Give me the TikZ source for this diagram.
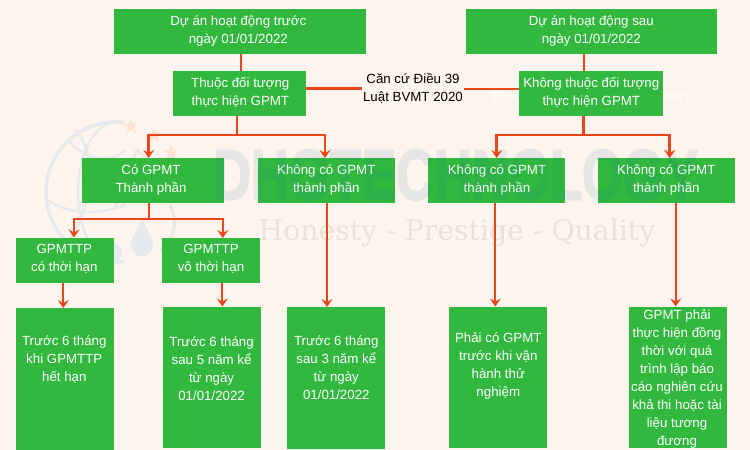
\documentclass[tikz,border=0pt]{standalone}
\usepackage{fontspec}
\usepackage{graphicx}
\setmainfont{Liberation Sans}
\newfontfamily\wmserif{DejaVu Serif}
\newfontfamily\wmb[BoldFeatures={FakeBold=3}]{Liberation Sans}
\definecolor{bgc}{HTML}{FFF5EE}
\definecolor{gbox}{HTML}{32B83F}
\definecolor{redl}{HTML}{E8471C}
\definecolor{wmblue}{HTML}{0F6E9E}
\definecolor{wmtan}{HTML}{E9E2DC}
\definecolor{wmglobe}{HTML}{E6EAEC}
\definecolor{wmstar}{HTML}{FBE3D6}
\definecolor{wmhouse}{HTML}{E7EBDD}
\usetikzlibrary{arrows.meta,calc}
\tikzset{
 gb/.style={fill=gbox,draw=none,inner sep=0pt,outer sep=0pt},
 gt/.style={text=white,align=center,font=\fontsize{13.3}{18}\selectfont,inner sep=0pt,yshift=-1.3pt},
 line/.style={draw=redl,line width=2.1pt},
 fatline/.style={draw=redl,line width=2.6pt},
 arr/.style={draw=redl,line width=2.1pt,-{Stealth[length=8pt,width=11pt,inset=3pt]}},
 fatarr/.style={arr,line width=2.6pt},
 lab/.style={font=\fontsize{13.3}{18}\selectfont,align=center,text=black,inner sep=0pt},
}
\newcommand{\gbox}[8]{\node[gb,minimum width={(#4-#2)*1pt},minimum height={(#5-#3)*1pt}] (#1) at ({(#2+#4)/2},{(#3+#5)/2}) {}; \node[gt] (#1t) at (#6,#7) {#8};}
\begin{document}
\begin{tikzpicture}[x=1pt,y=-1pt]
\useasboundingbox (0,0) rectangle (750,450);
\fill[bgc] (0,0) rectangle (750,450);
% watermark under the boxes
\begin{scope}
\clip (40,115) rectangle (124,270);
\draw[wmglobe,line width=3.5pt] (116,192) circle (70);
\draw[wmglobe,line width=2.5pt] (116,192) ellipse (38 and 70);
\end{scope}
\draw[wmglobe,line width=2.5pt] (68,140) .. controls (85,160) and (110,165) .. (125,150);
\draw[wmglobe,line width=2.5pt] (47,200) .. controls (70,215) and (100,215) .. (125,205);
\draw[wmglobe,line width=2.5pt] (75,130) .. controls (95,150) and (100,200) .. (60,255);
\fill[wmstar] (131,118) -- (133,123) -- (138,124) -- (134,127) -- (136,133) -- (131,130) -- (126,133) -- (128,127) -- (124,124) -- (129,123) -- cycle;
\fill[wmstar] (154,127) -- (156,132) -- (161,133) -- (157,136) -- (159,142) -- (154,139) -- (149,142) -- (151,136) -- (147,133) -- (152,132) -- cycle;
\fill[wmstar] (171,145) -- (173,150) -- (178,151) -- (174,154) -- (176,160) -- (171,157) -- (166,160) -- (168,154) -- (164,151) -- (169,150) -- cycle;
\draw[wmhouse,line width=3pt] (114,210) -- (137,150) -- (160,170);
\draw[wmhouse,line width=3pt] (170,205) .. controls (180,225) and (172,240) .. (160,250);
\fill[wmglobe] (142,218) .. controls (136,232) and (131,238) .. (131,245) .. controls (131,260) and (153,260) .. (153,245) .. controls (153,238) and (148,232) .. (142,218) -- cycle;
\fill[wmglobe] (113,252) circle (9);
\node[text=wmtan,font=\wmserif\fontsize{28.3}{28}\selectfont,inner sep=0pt] (wm2) at (457,233) {Honesty - Prestige - Quality};
\node[gt] (hidden) at (591,96) {Thuộc đối tượng thực hiện GPMT};
% boxes
\gbox{top1}{114}{9}{365.5}{54}{238.3}{29.7}{Dự án hoạt động trước\\ngày 01/01/2022}
\gbox{top2}{465.5}{9}{717}{54}{591.3}{29.7}{Dự án hoạt động sau\\ngày 01/01/2022}
\gbox{thuoc}{173}{70.5}{306}{115.5}{240.3}{91.5}{Thuộc đối tượng\\thực hiện GPMT}
\gbox{kthuoc}{519}{70.5}{663}{115.5}{591.3}{91.5}{Không thuộc đối tượng\\thực hiện GPMT}
\gbox{co}{82}{158}{224}{203}{151}{178.5}{Có GPMT\\Thành phần}
\gbox{k1}{258}{158}{395}{203}{326.3}{178.5}{Không có GPMT\\thành phần}
\gbox{k2}{428}{158}{565}{202.5}{497}{178.5}{Không có GPMT\\thành phần}
\gbox{k3}{598}{158}{735}{202.5}{666.3}{178.5}{Không có GPMT\\thành phần}
\gbox{gp1}{15.5}{237.5}{113.5}{282.5}{64.3}{258}{GPMTTP\\có thời hạn}
\gbox{gp2}{162}{238}{260}{283}{211}{258}{GPMTTP\\vô thời hạn}
\gbox{t1}{15.5}{308}{113.5}{450}{64.3}{358}{Trước 6 tháng\\khi GPMTTP\\hết hạn}
\gbox{t2}{163}{306.5}{261}{448}{211.6}{367}{Trước 6 tháng\\sau 5 năm kể\\từ ngày\\01/01/2022}
\gbox{t3}{287}{307}{385}{449}{336.3}{366}{Trước 6 tháng\\sau 3 năm kể\\từ ngày\\01/01/2022}
\gbox{t4}{449}{306.5}{547}{448}{498.3}{365}{Phải có GPMT\\trước khi vận\\hành thử\\nghiệm}
\gbox{t5}{629}{306.5}{727}{448}{677}{377.5}{GPMT phải\\thực hiện đồng\\thời với quá\\trình lập báo\\cáo nghiên cứu\\khả thi hoặc tài\\liệu tương\\đương}
% watermark title, tinting the boxes
\begin{scope}[transparency group,opacity=0.1]
\node[text=wmblue,inner sep=0pt,anchor=west] (wm) at (213,175) {\resizebox{485pt}{50pt}{\wmb\bfseries DHGTECHNOLOGY}};
\end{scope}
\node[lab,yshift=-0.5pt] (can) at (413,87.5) {Căn cứ Điều 39\\Luật BVMT 2020};
% connectors
\coordinate (j1) at (237,135);
\coordinate (j2) at (583.5,135);
\coordinate (j3) at (148.7,219.3);
\coordinate (c1) at (241,0);
\coordinate (c2) at (584.4,0);
\coordinate (cl) at (362,88.5);
\coordinate (cr) at (464,89.3);
\draw[line] (c1 |- top1.south) -- (c1 |- thuoc.north);
\draw[line] (c2 |- top2.south) -- (c2 |- kthuoc.north);
\draw[line] (thuoc.east |- cl) -- (cl);
\draw[line] (kthuoc.west |- cr) -- (cr);
\draw[fatline] (j1 |- thuoc.south) -- (j1);
\draw[fatline] (j2 |- kthuoc.south) -- (j2);
\draw[line] (j3 |- co.south) -- (j3);
\draw[fatarr] (j1) -| (co.north -| 148.7,0);
\draw[fatarr] (j1) -| (k1.north -| 325,0);
\draw[fatarr] (j2) -| (k2.north -| 496.7,0);
\draw[fatarr] (j2) -| (k3.north -| 669.7,0);
\draw[arr] (j3) -| (gp1.north -| 74,0);
\draw[arr] (j3) -| (gp2.north -| 222.7,0);
\draw[arr] (gp1.south -| 63.3,0) -- (t1.north -| 63.3,0);
\draw[arr] (gp2.south -| 222.3,0) -- (t2.north -| 222.3,0);
\draw[arr] (k1.south -| 327,0) -- (t3.north -| 327,0);
\draw[arr] (k2.south -| 495.3,0) -- (t4.north -| 495.3,0);
\draw[arr] (k3.south -| 675.7,0) -- (t5.north -| 675.7,0);
\end{tikzpicture}
\end{document}
